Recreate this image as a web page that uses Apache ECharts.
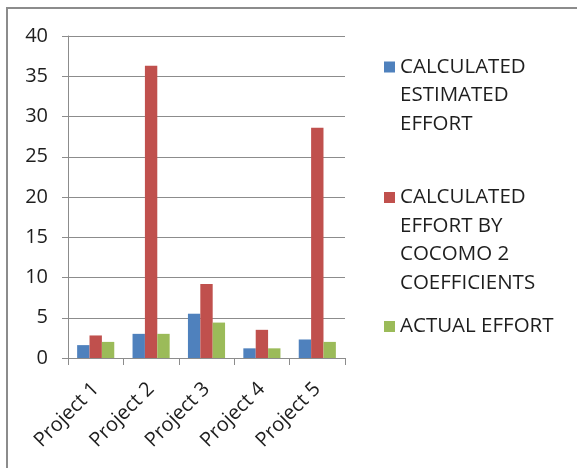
<!DOCTYPE html>
<html>
<head>
<meta charset="utf-8">
<style>
  html, body { margin: 0; padding: 0; background: #fff; }
  #chart { width: 577px; height: 468px; }
</style>
<script src="https://cdn.jsdelivr.net/npm/echarts@6/dist/echarts.min.js"></script>
</head>
<body>
<div id="chart"></div>
<script>
// Effort per project: estimation methods against the actual effort
const categories = ['Project 1', 'Project 2', 'Project 3', 'Project 4', 'Project 5'];
const seriesNames = [
  'CALCULATED\nESTIMATED\nEFFORT',
  'CALCULATED\nEFFORT BY\nCOCOMO 2\nCOEFFICIENTS',
  'ACTUAL EFFORT'
];
const calculatedEstimated = [1.6, 3.0, 5.5, 1.2, 2.3];
const cocomo2Effort = [2.8, 36.3, 9.2, 3.5, 28.6];
const actualEffort = [2.0, 3.0, 4.4, 1.2, 2.0];
const yTicks = { min: 0, max: 40, step: 5 };

const colors = ['#4F81BD', '#C0504D', '#9BBB59'];
const font = '"Open Sans", "DejaVu Sans", sans-serif';
const textColor = '#1e1e1e';
const gray = '#8c8c8c';
const lineH = 28.5;

// One legend block per series so each sits at its own height.
// Blank lines are put in front of the name so the swatch, which is
// centred on the text block, lines up with the first text line.
function legendBlock(name, swatchCenterY) {
  const lines = name.split('\n').length;
  const total = 2 * lines - 1;
  return {
    data: [name],
    orient: 'vertical',
    left: 384,
    top: swatchCenterY - total * lineH / 2,
    padding: 0,
    itemWidth: 11,
    itemHeight: 11,
    icon: 'rect',
    selectedMode: false,
    formatter: n => '\n'.repeat(lines - 1) + n,
    textStyle: {
      fontFamily: font,
      fontSize: 20.5,
      color: textColor,
      lineHeight: lineH
    }
  };
}

const chart = echarts.init(document.getElementById('chart'), null, { renderer: 'canvas' });
chart.setOption({
  animation: false,
  backgroundColor: '#fff',
  color: colors,
  graphic: [{
    type: 'rect',
    shape: { x: 7, y: 8, width: 620, height: 520 },
    style: { fill: 'none', stroke: gray, lineWidth: 2 },
    z: -10,
    silent: true
  }],
  legend: [
    legendBlock(seriesNames[0], 67),
    legendBlock(seriesNames[1], 197.5),
    legendBlock(seriesNames[2], 326.5)
  ],
  grid: { left: 68, right: 232, top: 36, bottom: 110, containLabel: false },
  xAxis: {
    type: 'category',
    data: categories,
    boundaryGap: true,
    axisLine: { show: true, lineStyle: { color: gray, width: 1 } },
    axisTick: { show: true, length: 7, interval: 0, alignWithLabel: false, lineStyle: { color: gray } },
    axisLabel: {
      interval: 0,
      rotate: 45,
      margin: 28,
      fontFamily: font,
      fontSize: 20,
      color: textColor
    },
    splitLine: { show: false }
  },
  yAxis: {
    type: 'value',
    min: yTicks.min,
    max: yTicks.max,
    interval: yTicks.step,
    axisLine: { show: true, lineStyle: { color: gray, width: 1 } },
    axisTick: { show: true, length: 6, lineStyle: { color: gray } },
    axisLabel: {
      margin: 20,
      fontFamily: font,
      fontSize: 20,
      color: textColor
    },
    splitLine: { show: true, lineStyle: { color: gray, width: 1 } }
  },
  series: [
    { name: seriesNames[0], type: 'bar', data: calculatedEstimated, barGap: '0%', barCategoryGap: '33%' },
    { name: seriesNames[1], type: 'bar', data: cocomo2Effort, barGap: '0%', barCategoryGap: '33%' },
    { name: seriesNames[2], type: 'bar', data: actualEffort, barGap: '0%', barCategoryGap: '33%' }
  ]
});
</script>
</body>
</html>
